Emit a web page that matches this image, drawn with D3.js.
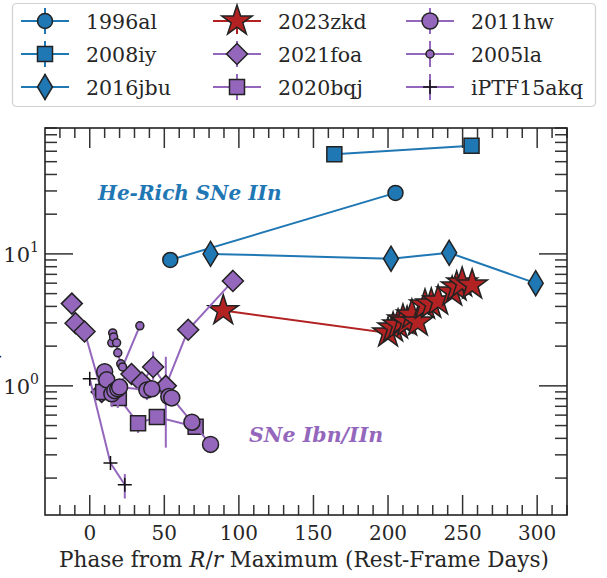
<!DOCTYPE html>
<html>
<head>
<meta charset="utf-8">
<script src="https://cdn.jsdelivr.net/npm/d3@7"></script>
<style>
  html, body { margin: 0; padding: 0; background: #fff; }
  svg { display: block; }
  svg text { font-family: "DejaVu Serif", serif; }
</style>
</head>
<body>
<script>
// ---- Data: phase (rest-frame days from R/r maximum) and line ratio ----
const phase1996al = [54, 205];
const ratio1996al = [9.0, 29];

const phase2008iy = [164, 256];
const ratio2008iy = [57, 66];

const phase2016jbu = [81, 202, 241, 299];
const ratio2016jbu = [10.0, 9.2, 10.2, 6.0];

const phase2023zkd = [89.5, 200, 203.4, 206.7, 210, 212.8, 216, 220, 224.8, 229, 233.6, 243, 246, 249.7, 256.4];
const ratio2023zkd = [3.72, 2.52, 2.75, 2.90, 3.16, 3.05, 3.45, 3.05, 4.1, 4.17, 4.4, 5.15, 5.63, 6.03, 5.82];

const phase2021foa = [-12, -9.5, -3.5, 8, 28, 35, 42.5, 51, 66, 96];
const ratio2021foa = [4.2, 2.98, 2.58, 0.9, 1.23, 1.06, 1.39, 1.0, 2.66, 6.24];
const err2021foa   = [null, null, null, null, null, null, [1.11, 1.82], [0.34, 1.66], null, null];

const phase2020bqj = [9, 19.5, 32.4, 45, 71];
const ratio2020bqj = [0.90, 0.81, 0.52, 0.58, 0.49];
const err2020bqj   = [null, null, [0.44, 0.60], null, null];

const phase2011hw = [10, 11.4, 14.8, 16.8, 18.8, 20, 38.3, 41.6, 53, 55, 68.5, 81];
const ratio2011hw = [1.28, 1.11, 0.87, 0.92, 0.95, 0.98, 0.93, 0.95, 0.83, 0.81, 0.53, 0.36];
const err2011hw   = [null, null, [0.69, 1.0], null, [0.68, 1.1], null, [0.78, 1.05], null, null, null, null, null];

const phase2005la = [14.8, 15.4, 16, 18, 18.8, 20.8, 22, 33.6];
const ratio2005la = [2.12, 2.52, 2.35, 2.12, 1.78, 1.47, 1.39, 2.85];
const err2005la   = [null, [2.3, 2.7], null, null, null, null, null, null];

const phaseIPTF15akq = [0, 13.9, 23.5];
const ratioIPTF15akq = [1.13, 0.26, 0.178];
const errIPTF15akq   = [null, null, [0.14, 0.215]];

const xTickValues = [0, 50, 100, 150, 200, 250, 300];
const yMajorTicks = [1, 10];
const yMajorLabels = ["0", "1"];   // exponents shown as 10^n

// ---- Styling ----
const BLUE = "#1f77b4", PURPLE = "#9467bd", RED = "#b22222", EDGE = "#222";

const W = 607, H = 578;
const plot = { left: 45, top: 128, right: 567, bottom: 515 };

const svg = d3.select("body").append("svg").attr("width", W).attr("height", H);

const x = d3.scaleLinear().domain([-30, 320]).range([plot.left, plot.right]);
const y = d3.scaleLog().domain([0.105, 90]).range([plot.bottom, plot.top]);

// ---- Marker shapes ----
const shapes = {
  circle: r => `M${r},0A${r},${r} 0 1,1 ${-r},0A${r},${r} 0 1,1 ${r},0Z`,
  square: s => `M${-s/2},${-s/2}H${s/2}V${s/2}H${-s/2}Z`,
  diamond: r => `M0,${-r}L${r},0L0,${r}L${-r},0Z`,
  thinDiamond: (w, h) => `M0,${-h}L${w},0L0,${h}L${-w},0Z`,
  star: R => {
    const ri = R * 0.382; let p = "";
    for (let i = 0; i < 10; i++) {
      const rr = i % 2 ? ri : R, a = Math.PI / 5 * i - Math.PI / 2;
      p += (i ? "L" : "M") + (rr * Math.cos(a)).toFixed(2) + "," + (rr * Math.sin(a)).toFixed(2);
    }
    return p + "Z";
  },
  plus: r => `M${-r},0H${r}M0,${-r}V${r}`
};

const series = [
  { name: "1996al", phase: phase1996al, ratio: ratio1996al, color: BLUE, path: shapes.circle(7.5) },
  { name: "2008iy", phase: phase2008iy, ratio: ratio2008iy, color: BLUE, path: shapes.square(15) },
  { name: "2016jbu", phase: phase2016jbu, ratio: ratio2016jbu, color: BLUE, path: shapes.thinDiamond(7.5, 12.5) },
  { name: "2023zkd", phase: phase2023zkd, ratio: ratio2023zkd, color: RED, path: shapes.star(16) },
  { name: "2021foa", phase: phase2021foa, ratio: ratio2021foa, err: err2021foa, color: PURPLE, path: shapes.diamond(10.5) },
  { name: "2020bqj", phase: phase2020bqj, ratio: ratio2020bqj, err: err2020bqj, color: PURPLE, path: shapes.square(15) },
  { name: "2011hw", phase: phase2011hw, ratio: ratio2011hw, err: err2011hw, color: PURPLE, path: shapes.circle(8) },
  { name: "2005la", phase: phase2005la, ratio: ratio2005la, err: err2005la, color: PURPLE, path: shapes.circle(4) },
  { name: "iPTF15akq", phase: phaseIPTF15akq, ratio: ratioIPTF15akq, err: errIPTF15akq, color: PURPLE, path: shapes.plus(7), plus: true }
];

// ---- Series: connecting lines, error bars, markers ----
const line = d3.line().x(d => x(d[0])).y(d => y(d[1]));
const gData = svg.append("g");
series.forEach(s => {
  const pts = s.phase.map((p, i) => [p, s.ratio[i]]);
  const g = gData.append("g");
  g.append("path").attr("d", line(pts)).attr("fill", "none")
    .attr("stroke", s.color).attr("stroke-width", 2);
  if (s.err) {
    s.err.forEach((e, i) => {
      if (!e) return;
      g.append("line").attr("x1", x(s.phase[i])).attr("x2", x(s.phase[i]))
        .attr("y1", y(e[0])).attr("y2", y(e[1]))
        .attr("stroke", s.color).attr("stroke-width", 2);
    });
  }
  g.selectAll("path.m").data(pts).join("path").attr("class", "m")
    .attr("d", s.path)
    .attr("transform", d => `translate(${x(d[0])},${y(d[1])})`)
    .attr("fill", s.plus ? "none" : s.color)
    .attr("stroke", s.plus ? "#111" : EDGE)
    .attr("stroke-width", 1.5)
    .attr("stroke-linejoin", "miter");
});

// ---- Axes frame and ticks (inward on all sides) ----
const gAx = svg.append("g");
const tickColor = "#333";
const minorX = d3.range(-20, 321, 10).filter(v => v % 50 !== 0);
const majLenX = 20, minLenX = 10, majLenY = 28, minLenY = 12;

function tick(x1, y1, x2, y2) {
  gAx.append("line").attr("x1", x1).attr("y1", y1).attr("x2", x2).attr("y2", y2)
    .attr("stroke", tickColor).attr("stroke-width", 1.5);
}
xTickValues.forEach(v => {
  tick(x(v), plot.bottom, x(v), plot.bottom - majLenX);
  tick(x(v), plot.top, x(v), plot.top + majLenX);
});
minorX.forEach(v => {
  tick(x(v), plot.bottom, x(v), plot.bottom - minLenX);
  tick(x(v), plot.top, x(v), plot.top + minLenX);
});
const minorY = [];
[0.1, 1, 10].forEach(dec => { for (let k = 2; k <= 9; k++) minorY.push(dec * k); });
minorY.filter(v => v >= y.domain()[0] && v <= y.domain()[1]).forEach(v => {
  tick(plot.left, y(v), plot.left + minLenY, y(v));
  tick(plot.right, y(v), plot.right - minLenY, y(v));
});
yMajorTicks.forEach(v => {
  tick(plot.left, y(v), plot.left + majLenY, y(v));
  tick(plot.right, y(v), plot.right - majLenY, y(v));
});
gAx.append("rect").attr("x", plot.left).attr("y", plot.top)
  .attr("width", plot.right - plot.left).attr("height", plot.bottom - plot.top)
  .attr("fill", "none").attr("stroke", "#222").attr("stroke-width", 1.6);

const TXT = "#262626";
// Tick labels
xTickValues.forEach(v => {
  svg.append("text").attr("x", x(v)).attr("y", 540).attr("text-anchor", "middle")
    .attr("font-size", 20).attr("fill", TXT).text(v);
});
yMajorTicks.forEach((v, i) => {
  const t = svg.append("text").attr("x", 39).attr("y", y(v) + 8).attr("text-anchor", "end")
    .attr("font-size", 21).attr("fill", TXT);
  t.append("tspan").text("10");
  t.append("tspan").attr("dy", -10).attr("font-size", 14).text(yMajorLabels[i]);
});

// Axis titles
const xt = svg.append("text").attr("x", 304).attr("y", 567).attr("text-anchor", "middle")
  .attr("font-size", 21.5).attr("fill", TXT);
xt.append("tspan").text("Phase from ");
xt.append("tspan").attr("font-style", "italic").text("R");
xt.append("tspan").text("/");
xt.append("tspan").attr("font-style", "italic").text("r");
xt.append("tspan").text(" Maximum (Rest-Frame Days)");

svg.append("text").attr("transform", "translate(-1,316) rotate(-90)")
  .attr("text-anchor", "middle").attr("font-size", 21).attr("fill", TXT).text("Hα / He I Ratio");

// Region annotations
svg.append("text").attr("x", 98).attr("y", 200).attr("font-size", 20)
  .attr("font-weight", "bold").attr("font-style", "italic")
  .attr("fill", BLUE).text("He-Rich SNe IIn");
svg.append("text").attr("x", 249).attr("y", 442).attr("font-size", 20.5)
  .attr("font-weight", "bold").attr("font-style", "italic")
  .attr("fill", PURPLE).text("SNe Ibn/IIn");

// ---- Legend (3 columns, filled column-wise) ----
const gLeg = svg.append("g");
gLeg.append("rect").attr("x", 12.5).attr("y", 3.5).attr("width", 583).attr("height", 103)
  .attr("rx", 4).attr("fill", "#fff").attr("fill-opacity", 0.8)
  .attr("stroke", "#d0d0d0").attr("stroke-width", 1.2);
const colX = [45, 237, 430], rowY = [21, 54, 87];
series.forEach((s, i) => {
  const cx = colX[Math.floor(i / 3)], cy = rowY[i % 3];
  const g = gLeg.append("g");
  g.append("line").attr("x1", cx - 24).attr("x2", cx + 24).attr("y1", cy).attr("y2", cy)
    .attr("stroke", s.color).attr("stroke-width", 2);
  g.append("line").attr("x1", cx).attr("x2", cx).attr("y1", cy - 13).attr("y2", cy + 13)
    .attr("stroke", s.color).attr("stroke-width", 2);
  g.append("path").attr("d", s.path).attr("transform", `translate(${cx},${cy})`)
    .attr("fill", s.plus ? "none" : s.color)
    .attr("stroke", s.plus ? "#111" : EDGE).attr("stroke-width", 1.5);
  g.append("text").attr("x", cx + 41).attr("y", cy + 7.5).attr("font-size", 20.5)
    .attr("fill", TXT).text(s.name);
});
</script>
</body>
</html>
